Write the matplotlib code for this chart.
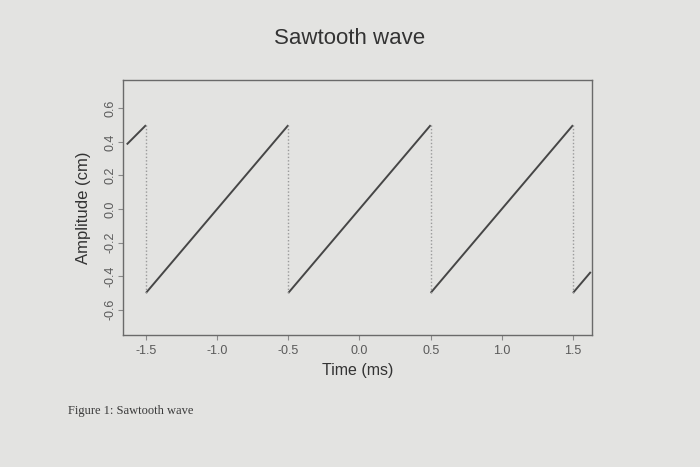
import matplotlib.pyplot as plt

# sawtooth pieces (time in ms, amplitude in cm)
t_start = [-1.635, -1.5, -0.5, 0.5, 1.5]
t_end = [-1.5, -0.5, 0.5, 1.5, 1.625]
amp_start = [0.385, -0.5, -0.5, -0.5, -0.5]
amp_end = [0.5, 0.5, 0.5, 0.5, -0.375]

# discontinuities, drawn as dotted drops
jump_t = [-1.5, -0.5, 0.5, 1.5]
jump_top = [0.5, 0.5, 0.5, 0.5]
jump_bottom = [-0.5, -0.5, -0.5, -0.5]

x_ticks = [-1.5, -1.0, -0.5, 0.0, 0.5, 1.0, 1.5]
y_ticks = [-0.6, -0.4, -0.2, 0.0, 0.2, 0.4, 0.6]

bg = '#e3e3e1'
plt.rcParams['font.family'] = ['Liberation Sans', 'DejaVu Sans']

fig = plt.figure(figsize=(7, 4.67), dpi=100, facecolor=bg)
ax = fig.add_axes([0.176, 0.283, 0.67, 0.546])
ax.set_facecolor(bg)

for x0, x1, y0, y1 in zip(t_start, t_end, amp_start, amp_end):
    ax.plot([x0, x1], [y0, y1], color='#464646', lw=1.4, solid_capstyle='butt')

for t, top, bot in zip(jump_t, jump_top, jump_bottom):
    ax.plot([t, t], [bot, top], color='#9a9a9a', lw=1.0, ls=(0, (1, 1.5)))

ax.set_xlim(-1.66, 1.635)
ax.set_ylim(-0.75, 0.77)
ax.set_xticks(x_ticks)
ax.set_yticks(y_ticks)
ax.set_xticklabels([f'{v:.1f}' for v in x_ticks])
ax.set_yticklabels([f'{v:.1f}' for v in y_ticks], rotation=90, va='center')

for s in ax.spines.values():
    s.set_color('#6a6a6a')
    s.set_linewidth(1.0)
ax.tick_params(direction='out', length=3.6, width=0.8, colors='#8a8a8a',
               labelcolor='#5a5a5a', labelsize=9)
ax.tick_params(axis='x', pad=4)
ax.tick_params(axis='y', pad=1)

ax.set_xlabel('Time (ms)', fontsize=11.5, color='#333333', labelpad=4)
ax.set_ylabel('Amplitude (cm)', fontsize=12, color='#333333', labelpad=10)
fig.text(0.5, 0.918, 'Sawtooth wave', ha='center', va='center',
         fontsize=16, color='#333333')
fig.text(0.097, 0.12, 'Figure 1: Sawtooth wave', ha='left', va='center',
         fontsize=9, color='#3a3a3a', family=['Liberation Serif', 'DejaVu Serif'])

fig.savefig('out.png', dpi=100, facecolor=bg)
